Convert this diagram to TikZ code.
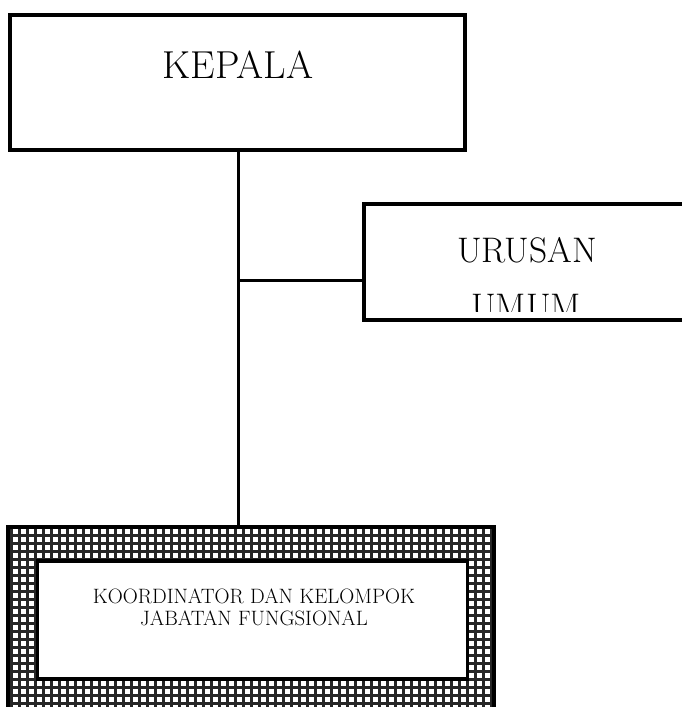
\documentclass[tikz,border=0pt]{standalone}
\begin{document}
\begin{tikzpicture}[x=1pt,y=-1pt,
  box/.style={draw=black,line width=3.5pt,fill=white,inner sep=0pt},
  conn/.style={line width=3pt},
  bigtext/.style={anchor=base,inner sep=0pt,font=\fontsize{39}{44}\selectfont},
  midtext/.style={anchor=base,inner sep=0pt,font=\fontsize{35.5}{40}\selectfont},
  smalltext/.style={anchor=base,inner sep=0pt,font=\fontsize{20.8}{22}\selectfont},
  gridfill/.style={path picture={\draw[line width=3pt,black!85,step=8pt,xshift=2pt,yshift=1pt]
      (path picture bounding box.south west) grid (path picture bounding box.north east);}}]
\useasboundingbox (0,0) rectangle (682,707);
\clip (0,0) rectangle (682,707);
% KEPALA
\node[box,minimum width=455pt,minimum height=135pt] (kepala) at (237.5,82.5) {};
\node[bigtext] (kepalatext) at (238,78) {KEPALA};
% URUSAN UMUM
\node[box,minimum width=356pt,minimum height=116pt] (urusan) at (542,262) {};
\node[midtext] (urusantext) at (527,262) {URUSAN};
\begin{scope}
  \clip (366,206) rectangle (700,311);
  \node[midtext] (umumtext) at (526,318) {UMUM};
\end{scope}
% KOORDINATOR frame
\node[box,gridfill,minimum width=486pt,minimum height=193pt] (frame) at (251,623.5) {};
\node[box,minimum width=430pt,minimum height=118pt] (inner) at (252.5,620) {};
\node[smalltext] (koortext) at (254,603) {KOORDINATOR DAN KELOMPOK};
\node[smalltext] (jabtext) at (254,625) {JABATAN FUNGSIONAL};
% connectors
\coordinate (j) at (238,280);
\draw[conn] (kepala.south -| j) -- (j |- frame.north);
\draw[conn] (j) -- (j -| urusan.west);
\end{tikzpicture}
\end{document}
